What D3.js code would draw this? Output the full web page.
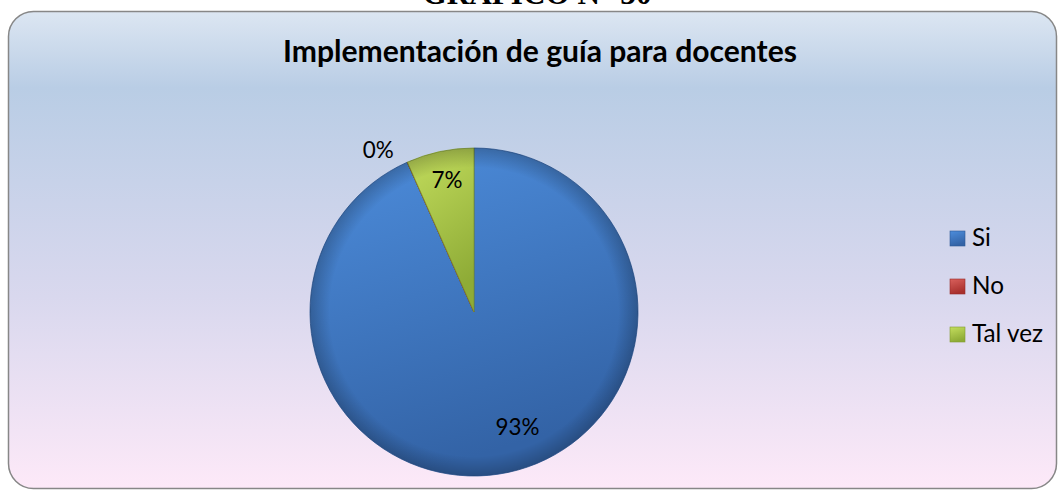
<!DOCTYPE html>
<html>
<head>
<meta charset="utf-8">
<script src="https://cdn.jsdelivr.net/npm/d3@7"></script>
<style>
  html, body { margin: 0; padding: 0; background: #fff; overflow: hidden; }
</style>
</head>
<body>
<div id="chart"></div>
<script>
const categories = ["Si", "No", "Tal vez"];
const values = [28, 0, 2];
const percentLabels = ["93%", "0%", "7%"];

const width = 1059, height = 490;
const colors = { "Si": ["#4d8ddc", "#3363a6"], "No": ["#d9605c", "#a8302d"], "Tal vez": ["#c4de5e", "#8eab36"] };
const font = "Lato, sans-serif";

const svg = d3.select("#chart").append("svg")
  .attr("width", width)
  .attr("height", height);

const defs = svg.append("defs");

const bg = defs.append("linearGradient")
  .attr("id", "bg").attr("x1", 0).attr("y1", 0).attr("x2", 0).attr("y2", 1);
bg.append("stop").attr("offset", "0%").attr("stop-color", "#dce6f2");
bg.append("stop").attr("offset", "16%").attr("stop-color", "#b9cde5");
bg.append("stop").attr("offset", "60%").attr("stop-color", "#d9d8ee");
bg.append("stop").attr("offset", "100%").attr("stop-color", "#fde9f8");

categories.forEach((c, i) => {
  const g = defs.append("linearGradient")
    .attr("id", "g" + i).attr("x1", 0).attr("y1", 0).attr("x2", 0.3).attr("y2", 1);
  g.append("stop").attr("offset", "0%").attr("stop-color", colors[c][0]);
  g.append("stop").attr("offset", "100%").attr("stop-color", colors[c][1]);
});

const bevel = defs.append("radialGradient")
  .attr("id", "bevel").attr("cx", 0.5).attr("cy", 0.5).attr("r", 0.5);
bevel.append("stop").attr("offset", "88%").attr("stop-color", "#000").attr("stop-opacity", 0);
bevel.append("stop").attr("offset", "100%").attr("stop-color", "#000").attr("stop-opacity", 0.22);

// shrink/grow a text so that it takes the given width
function fit(sel, w) {
  const n = sel.node();
  const fs = +sel.attr("font-size");
  sel.attr("font-size", fs * w / n.getComputedTextLength());
}

// heading above the frame (mostly cut off, as in the reference)
const heading = svg.append("text")
  .attr("x", 537).attr("y", 4)
  .attr("text-anchor", "middle")
  .attr("font-family", "Liberation Serif, serif")
  .attr("font-weight", "bold")
  .attr("font-size", 30)
  .text("GRAFICO N° 30");
fit(heading, 229);

svg.append("rect")
  .attr("x", 8.5).attr("y", 11.5)
  .attr("width", 1048).attr("height", 477)
  .attr("rx", 25).attr("ry", 25)
  .attr("fill", "url(#bg)")
  .attr("stroke", "#878787")
  .attr("stroke-width", 1.5);

const title = svg.append("text")
  .attr("x", 540).attr("y", 62)
  .attr("text-anchor", "middle")
  .attr("font-family", font)
  .attr("font-weight", "bold")
  .attr("font-size", 28)
  .attr("fill", "#000")
  .text("Implementación de guía para docentes");
fit(title, 514);

const cx = 474, cy = 312, r = 164;

const pie = d3.pie().sort(null).value(d => d.value);
const arcs = pie(categories.map((c, i) => ({ name: c, value: values[i], label: percentLabels[i], i })));
const arc = d3.arc().innerRadius(0).outerRadius(r);

const g = svg.append("g").attr("transform", `translate(${cx},${cy})`);

g.selectAll("path.slice")
  .data(arcs)
  .join("path")
  .attr("class", "slice")
  .attr("d", arc)
  .attr("fill", d => `url(#g${d.data.i})`)
  .attr("stroke", d => d3.color(colors[d.data.name][1]).darker(0.4))
  .attr("stroke-width", 0.8);

g.append("circle")
  .attr("r", r)
  .attr("fill", "url(#bevel)")
  .attr("pointer-events", "none");

// label positions: inside for real slices, outside for the empty one
const labelArc = {
  "Si": [d3.arc().innerRadius(r * 0.72).outerRadius(r * 0.72), [19, 0]],
  "Tal vez": [d3.arc().innerRadius(r * 0.82).outerRadius(r * 0.82), [1, 0]],
  "No": [d3.arc().innerRadius(r * 1.12).outerRadius(r * 1.12), [-21, 6]]
};

const lbl = g.selectAll("text.lbl")
  .data(arcs)
  .join("text")
  .attr("class", "lbl")
  .attr("font-family", font)
  .attr("font-size", 24)
  .attr("fill", "#000")
  .attr("text-anchor", "middle")
  .attr("dy", "0.35em")
  .attr("transform", d => {
    const [a, off] = labelArc[d.data.name];
    const p = a.centroid(d);
    return `translate(${p[0] + off[0]},${p[1] + off[1]})`;
  })
  .text(d => d.data.label);
lbl.filter(d => d.data.name === "Si").each(function () { fit(d3.select(this), 44); });
const lblSize = lbl.filter(d => d.data.name === "Si").attr("font-size");
lbl.attr("font-size", lblSize);

// legend
const legendY = d3.scalePoint().domain(categories).range([246, 342]);
const legend = svg.append("g")
  .selectAll("g")
  .data(categories)
  .join("g")
  .attr("transform", d => `translate(950,${legendY(d)})`);

legend.append("rect")
  .attr("x", 0).attr("y", -15)
  .attr("width", 15).attr("height", 15)
  .attr("fill", (d, i) => `url(#g${i})`)
  .attr("stroke", d => d3.color(colors[d][1]).darker(0.3))
  .attr("stroke-width", 0.6);

const legText = legend.append("text")
  .attr("x", 22)
  .attr("font-family", font)
  .attr("font-size", 23)
  .attr("fill", "#000")
  .text(d => d);
fit(legText.filter(d => d === "Tal vez"), 71);
legText.attr("font-size", legText.filter(d => d === "Tal vez").attr("font-size"));
</script>
</body>
</html>
